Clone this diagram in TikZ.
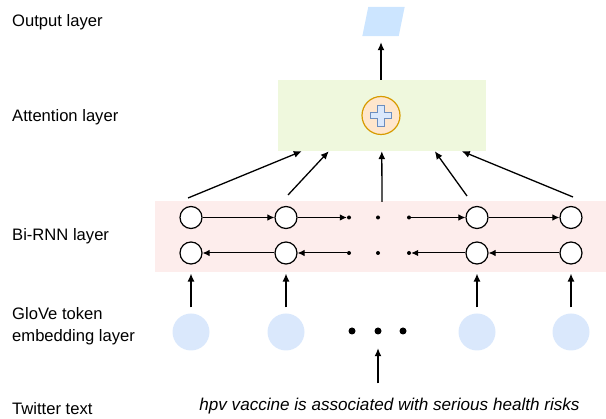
\documentclass[tikz,border=0pt]{standalone}
\usepackage{fontspec}
\setmainfont{Liberation Sans}
\usetikzlibrary{arrows.meta, positioning, calc}

\definecolor{outblue}{HTML}{CCE5FF}
\definecolor{attgreen}{HTML}{EFF8DD}
\definecolor{rnnpink}{HTML}{FDEDEC}
\definecolor{embblue}{HTML}{DAE8FC}
\definecolor{sumfill}{HTML}{FFE6CC}
\definecolor{sumdraw}{HTML}{D79B00}
\definecolor{plusdraw}{HTML}{6C8EBF}

\begin{document}
\begin{tikzpicture}[
        x=1pt, y=-1pt,
        every node/.style={font=\fontsize{16.6}{22}\selectfont},
        layername/.style={anchor=west, inner sep=0pt, align=left},
        panel/.style={rectangle, inner sep=0pt, draw=none},
        cell/.style={
            circle, draw=black, line width=1.2pt, fill=white,
            minimum size=22pt, inner sep=0pt
        },
        token/.style={circle, fill=embblue, minimum size=37pt, inner sep=0pt},
        gap/.style={circle, fill=black, minimum size=4pt, inner sep=0pt},
        bigdot/.style={circle, fill=black, minimum size=7pt, inner sep=0pt},
        arr/.style={-{Latex[length=8pt, width=7pt]}, line width=1.3pt},
        rarr/.style={-{Latex[length=7pt, width=6.5pt]}, line width=1pt}
    ]
    \useasboundingbox (0,0) rectangle (606,419);

% --- Layer names ---
    \node[layername] (lout) at (12,22) {Output layer};
    \node[layername] (latt) at (12,117) {Attention layer};
    \node[layername] (lrnn) at (12,236) {Bi-RNN layer};
    \node[layername] (lemb) at (12,326) {GloVe token\\embedding layer};
    \node[layername] (ltw) at (12,409) {Twitter text};

% --- Panels ---
    \node[panel, fill=attgreen, minimum width=208pt, minimum height=71pt] (attn) at (382,115.5) {};
    \node[panel, fill=rnnpink, minimum width=451pt, minimum height=71pt] (rnn) at (380.5,237) {};

% --- Output ---
    \node[minimum width=36pt, minimum height=29pt, inner sep=0pt] (out) at (383.5,21.5) {};
    \fill[outblue] ([xshift=3pt]out.north west) -- ([xshift=3pt]out.north east)
        -- ([xshift=-3pt]out.south east) -- ([xshift=-3pt]out.south west) -- cycle;

% --- Attention sum ---
    \node[circle, draw=sumdraw, fill=sumfill, line width=1.2pt, minimum size=38pt, inner sep=0pt] (sum) at (381,115.5) {};
    \filldraw[fill=embblue, draw=plusdraw, line width=0.9pt]
        ([shift={(-3.3,-10.5)}]sum.center) -- ++(6.6,0) -- ++(0,7.2) -- ++(7.2,0)
        -- ++(0,6.6) -- ++(-7.2,0) -- ++(0,7.2) -- ++(-6.6,0) -- ++(0,-7.2)
        -- ++(-7.2,0) -- ++(0,-6.6) -- ++(7.2,0) -- cycle;

    \draw[arr, shorten >=6pt] (attn.north -| sum) -- (out.south -| sum);

% --- Bi-RNN cells ---
    \node[cell] (t1) at (191,217.5) {};
    \node[cell, on grid, right=95pt of t1] (t2) {};
    \node[cell, on grid, right=191pt of t2] (t3) {};
    \node[cell, on grid, right=94pt of t3] (t4) {};
    \foreach \i in {1,...,4}
        \node[cell, on grid, below=35.5pt of t\i] (b\i) {};

    \node[gap] (g1) at (349,217.5) {};
    \node[gap] (g2) at (378,217.5) {};
    \node[gap] (g3) at (409,217.5) {};
    \node[gap] (h1) at (349,253) {};
    \node[gap] (h2) at (378,253) {};
    \node[gap] (h3) at (409,253) {};

    % forward
    \draw[rarr] (t1) -- (t2);
    \draw[rarr] (t2) -- (g1);
    \draw[rarr] (g3) -- (t3);
    \draw[rarr] (t3) -- (t4);
    % backward
    \draw[rarr] (b2) -- (b1);
    \draw[rarr] (h1) -- (b2);
    \draw[rarr] (b3) -- (h3);
    \draw[rarr] (b4) -- (b3);

% --- Into attention ---
    \coordinate (s1) at (188,198);
    \coordinate (s2) at (288,195);
    \coordinate (s3) at (382,202);
    \coordinate (s4) at (467,196);
    \coordinate (s5) at (573,197);
    \coordinate (a1) at ($(attn.south west)+(24,0)$);
    \coordinate (a2) at ($(attn.south west)+(51,0)$);
    \coordinate (a3) at ($(attn.south west)+(104,0)$);
    \coordinate (a4) at ($(attn.south west)+(157,0)$);
    \coordinate (a5) at ($(attn.south west)+(184,0)$);
    \foreach \i in {1,...,5}
        \draw[arr] (s\i) -- (a\i);

% --- GloVe tokens ---
    \foreach \i in {1,...,4}
        \node[token, on grid, below=114.5pt of t\i] (e\i) {};
    \node[bigdot] (k1) at (352,331) {};
    \node[bigdot] (k2) at (378,331) {};
    \node[bigdot] (k3) at (403,331) {};

    \foreach \i in {1,...,4}
        \draw[arr, shorten <=6pt, shorten >=9pt] (e\i) -- (b\i);

% --- Input text ---
    \node[anchor=base, inner sep=0pt, font=\fontsize{17.1}{22}\selectfont\itshape] (tweet) at (389.5,411)
        {hpv vaccine is associated with serious health risks};
    \draw[arr, shorten <=15pt, shorten >=13.5pt] (tweet.north -| k2) -- (k2);
\end{tikzpicture}
\end{document}
